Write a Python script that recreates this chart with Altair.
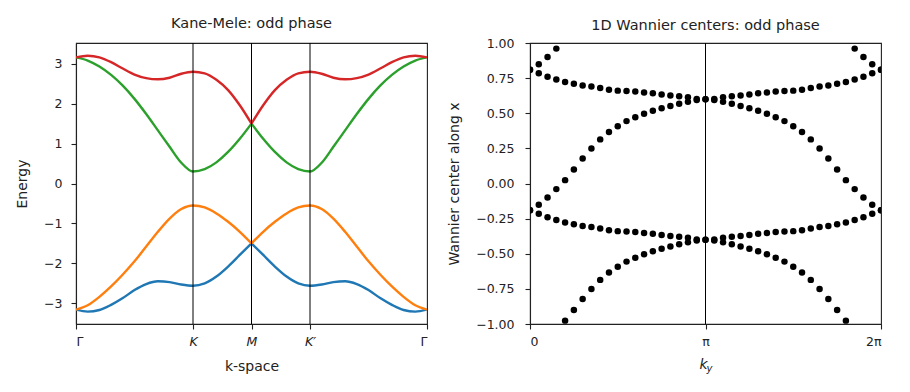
import altair as alt
import pandas as pd

# ---------------- data: band structure (path fraction 0..1, Γ-K-M-K'-Γ) ----------------
k_frac = [i / 30 for i in range(31)]
band_blue = [-3.16, -3.21, -3.17, -3.04, -2.87, -2.67, -2.52, -2.45, -2.47, -2.53, -2.56,
             -2.50, -2.33, -2.08, -1.79, -1.50,
             -1.79, -2.08, -2.33, -2.50, -2.56, -2.53, -2.47, -2.45, -2.52, -2.67, -2.87,
             -3.04, -3.17, -3.21, -3.16]
band_orange = [-3.16, -3.05, -2.84, -2.58, -2.28, -1.95, -1.58, -1.21, -0.88, -0.64, -0.55,
               -0.60, -0.75, -0.96, -1.21, -1.50,
               -1.21, -0.96, -0.75, -0.60, -0.55, -0.64, -0.88, -1.21, -1.58, -1.95, -2.28,
               -2.58, -2.84, -3.05, -3.16]
band_green = [3.16, 3.08, 2.93, 2.72, 2.45, 2.12, 1.74, 1.33, 0.92, 0.52, 0.30,
              0.36, 0.53, 0.79, 1.12, 1.50,
              1.12, 0.79, 0.53, 0.36, 0.30, 0.52, 0.92, 1.33, 1.74, 2.12, 2.45,
              2.72, 2.93, 3.08, 3.16]
band_red = [3.16, 3.20, 3.16, 3.04, 2.88, 2.73, 2.64, 2.61, 2.65, 2.75, 2.80,
            2.76, 2.60, 2.34, 1.96, 1.50,
            1.96, 2.34, 2.60, 2.76, 2.80, 2.75, 2.65, 2.61, 2.64, 2.73, 2.88,
            3.04, 3.16, 3.20, 3.16]
band_names = ["b0", "b1", "b2", "b3"]
band_colors = ["#1f77b4", "#ff7f0e", "#2ca02c", "#d62728"]
node_pos = [0.0, 1 / 3, 0.5, 2 / 3, 1.0]
node_labels = ["Γ", "K", "M", "K′", "Γ"]
inner_nodes = [1 / 3, 0.5, 2 / 3]
energy_ticks = [-3, -2, -1, 0, 1, 2, 3]

# ---------------- data: Wannier centres (41 ky points over 0..2π) ----------------
ky_frac = [i / 40 for i in range(41)]
wc_a = [-0.190, -0.216, -0.240, -0.260, -0.278, -0.290, -0.302, -0.310, -0.321, -0.332,
        -0.339, -0.342, -0.346, -0.352, -0.358, -0.366, -0.373, -0.379, -0.386, -0.398,
        -0.400,
        -0.398, -0.386, -0.379, -0.373, -0.366, -0.358, -0.352, -0.346, -0.342, -0.339,
        -0.332, -0.321, -0.310, -0.302, -0.290, -0.278, -0.260, -0.240, -0.216, -0.190]
wc_b = [-0.190, -0.152, -0.100, -0.040, 0.024, 0.099, 0.178, 0.249, 0.314, 0.366,
        0.408, 0.444, 0.472, 0.496, 0.517, 0.535, 0.552, 0.568, 0.581, 0.595,
        0.600,
        0.595, 0.581, 0.568, 0.552, 0.535, 0.517, 0.496, 0.472, 0.444, 0.408,
        0.366, 0.314, 0.249, 0.178, 0.099, 0.024, -0.040, -0.100, -0.152, -0.190]
shifts = [-2, -1, 0, 1, 2]
wc_ticks = [-1.0, -0.75, -0.5, -0.25, 0.0, 0.25, 0.5, 0.75, 1.0]

# ---------------- tables ----------------
rows = []
for name, vals in zip(band_names, [band_blue, band_orange, band_green, band_red]):
    for k, e in zip(k_frac, vals):
        segs = []
        if k <= 0.5 + 1e-9:
            segs.append("s1")
        if k >= 0.5 - 1e-9:
            segs.append("s2")
        for s in segs:
            rows.append({"k": k, "E": e, "band": name, "seg": name + s})
band_df = pd.DataFrame(rows)
nodes_df = pd.DataFrame({"k": inner_nodes})

wrows = []
for sh in shifts:
    for br, vals in (("a", wc_a), ("b", wc_b)):
        for ky, v in zip(ky_frac, vals):
            y = v + sh
            if -1.025 <= y <= 1.025:
                wrows.append({"ky": ky, "wc": y, "br": br})
wc_df = pd.DataFrame(wrows)

INK = "#222222"
FONT = "DejaVu Sans"
W, H = 351, 281

k_label_expr = ("datum.value < 0.1 ? '%s' : datum.value < 0.4 ? '%s' : datum.value < 0.6 ? '%s' : "
                "datum.value < 0.9 ? '%s' : '%s'") % tuple(node_labels)

x_left = alt.X("k:Q", scale=alt.Scale(domain=[0, 1], nice=False, zero=False),
               axis=alt.Axis(values=node_pos, labelExpr=k_label_expr, title="k-space",
                             labelFontStyle={"condition": {"test": "datum.value < 0.1 || datum.value > 0.9",
                                                           "value": "normal"},
                                             "value": "italic"},
                             labelPadding=6, titlePadding=12))
y_left = alt.Y("E:Q", scale=alt.Scale(domain=[-3.52, 3.52], nice=False, zero=False),
               axis=alt.Axis(values=energy_ticks, title="Energy", labelPadding=9, titlePadding=14))

lines = alt.Chart(band_df).mark_line(strokeWidth=2.4, interpolate="monotone", clip=True).encode(
    x=x_left, y=y_left,
    color=alt.Color("band:N", scale=alt.Scale(domain=band_names, range=band_colors), legend=None),
    detail="seg:N",
)
vrules = alt.Chart(nodes_df).mark_rule(color="black", strokeWidth=1).encode(x="k:Q")
left = alt.layer(lines, vrules).properties(
    width=W, height=H,
    title=alt.Title("Kane-Mele: odd phase", offset=11, frame="group"))

x_right = alt.X("ky:Q", scale=alt.Scale(domain=[0, 1], nice=False, zero=False),
                axis=alt.Axis(values=[0, 0.5, 1],
                              labelExpr="datum.value < 0.25 ? '0' : datum.value < 0.75 ? 'π' : '2π'",
                              title=None, labelPadding=6))
y_right = alt.Y("wc:Q", scale=alt.Scale(domain=[-1, 1], nice=False, zero=False),
                axis=alt.Axis(values=wc_ticks, format=".2f", title="Wannier center along x",
                              labelPadding=11, titlePadding=14))
dots = alt.Chart(wc_df).mark_circle(size=42, color="black", opacity=1, clip=True).encode(
    x=x_right, y=y_right, detail="br:N")
pirule = alt.Chart(pd.DataFrame({"ky": [0.5]})).mark_rule(color="black", strokeWidth=1).encode(x="ky:Q")
lab_df = pd.DataFrame({"t": ["k"]})
ktxt = alt.Chart(lab_df).mark_text(text="k", font=FONT, fontSize=14, fontStyle="italic",
                                   color=INK, baseline="middle", dx=-2).encode(
    x=alt.datum(0.5), y=alt.value(H + 41))
ytxt = alt.Chart(lab_df).mark_text(text="y", font=FONT, fontSize=10, fontStyle="italic",
                                   color=INK, baseline="middle", dx=4).encode(
    x=alt.datum(0.5), y=alt.value(H + 45))
right = alt.layer(dots, pirule, ktxt, ytxt).properties(
    width=W, height=H,
    title=alt.Title("1D Wannier centers: odd phase", offset=4, frame="group"))

chart = alt.hconcat(left, right, spacing=18).properties(
    padding={"left": 7, "top": 7, "right": 5, "bottom": 5}
).configure_view(stroke=INK, strokeWidth=1.1).configure_axis(
    domainColor=INK, domainWidth=1.1, tickColor=INK, tickWidth=1.1, tickSize=5,
    labelFont=FONT, labelFontSize=12.5, labelColor=INK,
    titleFont=FONT, titleFontSize=14, titleFontWeight="normal", titleColor=INK,
    grid=False,
).configure_title(font=FONT, fontSize=14.5, fontWeight="normal", color=INK, anchor="middle")

chart.save("out.html", embed_options={"renderer": "svg", "actions": False})
